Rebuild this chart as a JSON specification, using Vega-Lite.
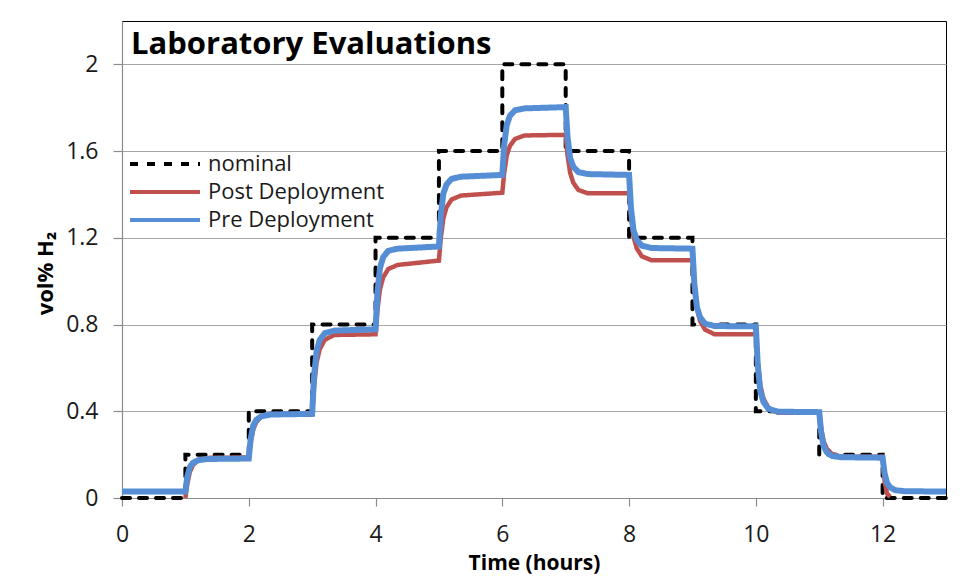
{
  "$schema": "https://vega.github.io/schema/vega-lite/v6.json",
  "width": 824,
  "height": 477,
  "autosize": "none",
  "padding": {"left": 122, "top": 21, "right": 31, "bottom": 79},
  "background": "white",
  "config": {
    "view": {"stroke": "#000000", "strokeWidth": 1},
    "axis": {"labelFont": "Open Sans", "labelFontSize": 23, "labelColor": "#1a1a1a", "titleFont": "Open Sans", "titleFontSize": 22, "titleFontWeight": "bold", "titleColor": "#000000", "domainColor": "#8c8c8c", "tickColor": "#8c8c8c", "gridColor": "#a6a6a6", "domainWidth": 1.2, "tickWidth": 1.2}
  },
  "datasets": {
    "nominal": [
      {"t": 0, "v": 0, "s": "nominal"}, {"t": 1, "v": 0.2, "s": "nominal"}, {"t": 2, "v": 0.4, "s": "nominal"},
      {"t": 3, "v": 0.8, "s": "nominal"}, {"t": 4, "v": 1.2, "s": "nominal"}, {"t": 5, "v": 1.6, "s": "nominal"},
      {"t": 6, "v": 2.0, "s": "nominal"}, {"t": 7, "v": 1.6, "s": "nominal"}, {"t": 8, "v": 1.2, "s": "nominal"},
      {"t": 9, "v": 0.8, "s": "nominal"}, {"t": 10, "v": 0.4, "s": "nominal"}, {"t": 11, "v": 0.2, "s": "nominal"},
      {"t": 12, "v": 0, "s": "nominal"}, {"t": 13, "v": 0, "s": "nominal"}
    ],
    "post": [
      {"t": 1.0, "v": 0.0, "s": "Post Deployment"}, {"t": 1.03, "v": 0.065, "s": "Post Deployment"}, {"t": 1.07, "v": 0.12, "s": "Post Deployment"}, {"t": 1.12, "v": 0.152, "s": "Post Deployment"}, {"t": 1.2, "v": 0.174, "s": "Post Deployment"}, {"t": 1.35, "v": 0.185, "s": "Post Deployment"}, {"t": 2.0, "v": 0.187, "s": "Post Deployment"},
      {"t": 2.03, "v": 0.257, "s": "Post Deployment"}, {"t": 2.07, "v": 0.317, "s": "Post Deployment"}, {"t": 2.12, "v": 0.351, "s": "Post Deployment"}, {"t": 2.2, "v": 0.375, "s": "Post Deployment"}, {"t": 2.35, "v": 0.387, "s": "Post Deployment"}, {"t": 3.0, "v": 0.389, "s": "Post Deployment"},
      {"t": 3.03, "v": 0.516, "s": "Post Deployment"}, {"t": 3.07, "v": 0.625, "s": "Post Deployment"}, {"t": 3.12, "v": 0.687, "s": "Post Deployment"}, {"t": 3.2, "v": 0.73, "s": "Post Deployment"}, {"t": 3.35, "v": 0.752, "s": "Post Deployment"}, {"t": 4.0, "v": 0.755, "s": "Post Deployment"},
      {"t": 4.03, "v": 0.867, "s": "Post Deployment"}, {"t": 4.07, "v": 0.963, "s": "Post Deployment"}, {"t": 4.12, "v": 1.017, "s": "Post Deployment"}, {"t": 4.2, "v": 1.056, "s": "Post Deployment"}, {"t": 4.35, "v": 1.075, "s": "Post Deployment"}, {"t": 5.0, "v": 1.095, "s": "Post Deployment"},
      {"t": 5.03, "v": 1.2, "s": "Post Deployment"}, {"t": 5.07, "v": 1.29, "s": "Post Deployment"}, {"t": 5.12, "v": 1.341, "s": "Post Deployment"}, {"t": 5.2, "v": 1.377, "s": "Post Deployment"}, {"t": 5.35, "v": 1.395, "s": "Post Deployment"}, {"t": 6.0, "v": 1.408, "s": "Post Deployment"},
      {"t": 6.03, "v": 1.5, "s": "Post Deployment"}, {"t": 6.07, "v": 1.58, "s": "Post Deployment"}, {"t": 6.12, "v": 1.624, "s": "Post Deployment"}, {"t": 6.2, "v": 1.656, "s": "Post Deployment"}, {"t": 6.35, "v": 1.672, "s": "Post Deployment"}, {"t": 7.0, "v": 1.675, "s": "Post Deployment"},
      {"t": 7.03, "v": 1.58, "s": "Post Deployment"}, {"t": 7.07, "v": 1.5, "s": "Post Deployment"}, {"t": 7.12, "v": 1.454, "s": "Post Deployment"}, {"t": 7.2, "v": 1.421, "s": "Post Deployment"}, {"t": 7.35, "v": 1.405, "s": "Post Deployment"}, {"t": 8.0, "v": 1.405, "s": "Post Deployment"},
      {"t": 8.03, "v": 1.297, "s": "Post Deployment"}, {"t": 8.07, "v": 1.205, "s": "Post Deployment"}, {"t": 8.12, "v": 1.152, "s": "Post Deployment"}, {"t": 8.2, "v": 1.115, "s": "Post Deployment"}, {"t": 8.35, "v": 1.097, "s": "Post Deployment"}, {"t": 9.0, "v": 1.097, "s": "Post Deployment"},
      {"t": 9.03, "v": 0.977, "s": "Post Deployment"}, {"t": 9.07, "v": 0.875, "s": "Post Deployment"}, {"t": 9.12, "v": 0.817, "s": "Post Deployment"}, {"t": 9.2, "v": 0.776, "s": "Post Deployment"}, {"t": 9.35, "v": 0.755, "s": "Post Deployment"}, {"t": 10.0, "v": 0.755, "s": "Post Deployment"},
      {"t": 10.03, "v": 0.628, "s": "Post Deployment"}, {"t": 10.07, "v": 0.52, "s": "Post Deployment"}, {"t": 10.12, "v": 0.458, "s": "Post Deployment"}, {"t": 10.2, "v": 0.415, "s": "Post Deployment"}, {"t": 10.35, "v": 0.393, "s": "Post Deployment"}, {"t": 11.0, "v": 0.393, "s": "Post Deployment"},
      {"t": 11.03, "v": 0.322, "s": "Post Deployment"}, {"t": 11.07, "v": 0.261, "s": "Post Deployment"}, {"t": 11.12, "v": 0.227, "s": "Post Deployment"}, {"t": 11.2, "v": 0.203, "s": "Post Deployment"}, {"t": 11.35, "v": 0.19, "s": "Post Deployment"}, {"t": 12.0, "v": 0.19, "s": "Post Deployment"},
      {"t": 12.03, "v": 0.08, "s": "Post Deployment"}, {"t": 12.07, "v": 0.02, "s": "Post Deployment"}, {"t": 12.12, "v": 0.005, "s": "Post Deployment"}
    ],
    "pre": [
      {"t": 0.0, "v": 0.03, "s": "Pre Deployment"}, {"t": 1.0, "v": 0.03, "s": "Pre Deployment"},
      {"t": 1.03, "v": 0.098, "s": "Pre Deployment"}, {"t": 1.07, "v": 0.143, "s": "Pre Deployment"}, {"t": 1.12, "v": 0.162, "s": "Pre Deployment"}, {"t": 1.2, "v": 0.174, "s": "Pre Deployment"}, {"t": 1.35, "v": 0.18, "s": "Pre Deployment"}, {"t": 2.0, "v": 0.182, "s": "Pre Deployment"},
      {"t": 2.03, "v": 0.273, "s": "Pre Deployment"}, {"t": 2.07, "v": 0.334, "s": "Pre Deployment"}, {"t": 2.12, "v": 0.361, "s": "Pre Deployment"}, {"t": 2.2, "v": 0.377, "s": "Pre Deployment"}, {"t": 2.35, "v": 0.385, "s": "Pre Deployment"}, {"t": 3.0, "v": 0.388, "s": "Pre Deployment"},
      {"t": 3.03, "v": 0.562, "s": "Pre Deployment"}, {"t": 3.07, "v": 0.678, "s": "Pre Deployment"}, {"t": 3.12, "v": 0.729, "s": "Pre Deployment"}, {"t": 3.2, "v": 0.76, "s": "Pre Deployment"}, {"t": 3.35, "v": 0.772, "s": "Pre Deployment"}, {"t": 4.0, "v": 0.778, "s": "Pre Deployment"},
      {"t": 4.03, "v": 0.948, "s": "Pre Deployment"}, {"t": 4.07, "v": 1.061, "s": "Pre Deployment"}, {"t": 4.12, "v": 1.11, "s": "Pre Deployment"}, {"t": 4.2, "v": 1.14, "s": "Pre Deployment"}, {"t": 4.35, "v": 1.15, "s": "Pre Deployment"}, {"t": 5.0, "v": 1.16, "s": "Pre Deployment"},
      {"t": 5.03, "v": 1.306, "s": "Pre Deployment"}, {"t": 5.07, "v": 1.404, "s": "Pre Deployment"}, {"t": 5.12, "v": 1.446, "s": "Pre Deployment"}, {"t": 5.2, "v": 1.472, "s": "Pre Deployment"}, {"t": 5.35, "v": 1.482, "s": "Pre Deployment"}, {"t": 6.0, "v": 1.49, "s": "Pre Deployment"},
      {"t": 6.03, "v": 1.63, "s": "Pre Deployment"}, {"t": 6.07, "v": 1.72, "s": "Pre Deployment"}, {"t": 6.12, "v": 1.763, "s": "Pre Deployment"}, {"t": 6.2, "v": 1.788, "s": "Pre Deployment"}, {"t": 6.35, "v": 1.797, "s": "Pre Deployment"}, {"t": 7.0, "v": 1.803, "s": "Pre Deployment"},
      {"t": 7.03, "v": 1.662, "s": "Pre Deployment"}, {"t": 7.07, "v": 1.568, "s": "Pre Deployment"}, {"t": 7.12, "v": 1.528, "s": "Pre Deployment"}, {"t": 7.2, "v": 1.503, "s": "Pre Deployment"}, {"t": 7.35, "v": 1.494, "s": "Pre Deployment"}, {"t": 8.0, "v": 1.49, "s": "Pre Deployment"},
      {"t": 8.03, "v": 1.337, "s": "Pre Deployment"}, {"t": 8.07, "v": 1.235, "s": "Pre Deployment"}, {"t": 8.12, "v": 1.191, "s": "Pre Deployment"}, {"t": 8.2, "v": 1.164, "s": "Pre Deployment"}, {"t": 8.35, "v": 1.153, "s": "Pre Deployment"}, {"t": 9.0, "v": 1.15, "s": "Pre Deployment"},
      {"t": 9.03, "v": 0.988, "s": "Pre Deployment"}, {"t": 9.07, "v": 0.88, "s": "Pre Deployment"}, {"t": 9.12, "v": 0.833, "s": "Pre Deployment"}, {"t": 9.2, "v": 0.804, "s": "Pre Deployment"}, {"t": 9.35, "v": 0.793, "s": "Pre Deployment"}, {"t": 10.0, "v": 0.792, "s": "Pre Deployment"},
      {"t": 10.03, "v": 0.613, "s": "Pre Deployment"}, {"t": 10.07, "v": 0.494, "s": "Pre Deployment"}, {"t": 10.12, "v": 0.443, "s": "Pre Deployment"}, {"t": 10.2, "v": 0.411, "s": "Pre Deployment"}, {"t": 10.35, "v": 0.398, "s": "Pre Deployment"}, {"t": 11.0, "v": 0.396, "s": "Pre Deployment"},
      {"t": 11.03, "v": 0.302, "s": "Pre Deployment"}, {"t": 11.07, "v": 0.239, "s": "Pre Deployment"}, {"t": 11.12, "v": 0.211, "s": "Pre Deployment"}, {"t": 11.2, "v": 0.194, "s": "Pre Deployment"}, {"t": 11.35, "v": 0.188, "s": "Pre Deployment"}, {"t": 12.0, "v": 0.186, "s": "Pre Deployment"},
      {"t": 12.03, "v": 0.116, "s": "Pre Deployment"}, {"t": 12.07, "v": 0.069, "s": "Pre Deployment"}, {"t": 12.12, "v": 0.049, "s": "Pre Deployment"}, {"t": 12.2, "v": 0.036, "s": "Pre Deployment"}, {"t": 12.35, "v": 0.031, "s": "Pre Deployment"}, {"t": 13.0, "v": 0.03, "s": "Pre Deployment"}
    ],
    "heading": [{"label": "Laboratory Evaluations"}]
  },
  "layer": [
    {"data": {"name": "nominal"}, "mark": {"type": "line", "interpolate": "step-after", "strokeWidth": 4, "strokeCap": "round"},
     "encoding": {
      "x": {"field": "t", "type": "quantitative", "scale": {"domain": [0, 13], "nice": false, "zero": false},
        "axis": {"title": "Time (hours)", "titleFontSize": 21, "values": [0, 2, 4, 6, 8, 10, 12], "format": "d", "grid": false, "tickSize": 8, "labelPadding": 17, "titlePadding": 6, "labelFlush": false}},
      "y": {"field": "v", "type": "quantitative", "scale": {"domain": [0, 2.2], "nice": false},
        "axis": {"title": "vol% H₂", "values": [0, 0.4, 0.8, 1.2, 1.6, 2.0], "format": ".1~f", "grid": true, "tickSize": 9, "labelPadding": 15, "titlePadding": 8, "titleY": 252, "labelFlush": false}},
      "color": {"field": "s", "type": "nominal",
        "scale": {"domain": ["nominal", "Post Deployment", "Pre Deployment"], "range": ["#000000", "#C0504D", "#558ED5"]},
        "legend": {"title": null, "orient": "none", "legendX": 27, "legendY": 127, "symbolType": "M-2.5,0H2.5", "symbolSize": 784, "symbolStrokeWidth": 4, "symbolFillColor": "transparent", "labelFont": "Open Sans", "labelFontSize": 22, "labelColor": "#1a1a1a", "labelOffset": 27, "labelLimit": 400, "rowPadding": 1}},
      "strokeDash": {"field": "s", "type": "nominal",
        "scale": {"domain": ["nominal", "Post Deployment", "Pre Deployment"], "range": [[8, 9], [1, 0], [1, 0]]}}
     }},
    {"data": {"name": "post"}, "mark": {"type": "line", "strokeWidth": 4.5},
     "encoding": {
      "x": {"field": "t", "type": "quantitative"},
      "y": {"field": "v", "type": "quantitative"},
      "color": {"field": "s", "type": "nominal"},
      "strokeDash": {"field": "s", "type": "nominal"}
     }},
    {"data": {"name": "pre"}, "mark": {"type": "line", "strokeWidth": 6},
     "encoding": {
      "x": {"field": "t", "type": "quantitative"},
      "y": {"field": "v", "type": "quantitative"},
      "color": {"field": "s", "type": "nominal"},
      "strokeDash": {"field": "s", "type": "nominal"}
     }},
    {"data": {"name": "heading"}, "mark": {"type": "text", "align": "left", "baseline": "alphabetic", "dx": 9, "dy": 33, "font": "Open Sans", "fontWeight": "bold", "fontSize": 31, "color": "#000000"},
     "encoding": {
      "x": {"datum": 0, "type": "quantitative"},
      "y": {"datum": 2.2, "type": "quantitative"},
      "text": {"field": "label", "type": "nominal"}
     }}
  ]
}
